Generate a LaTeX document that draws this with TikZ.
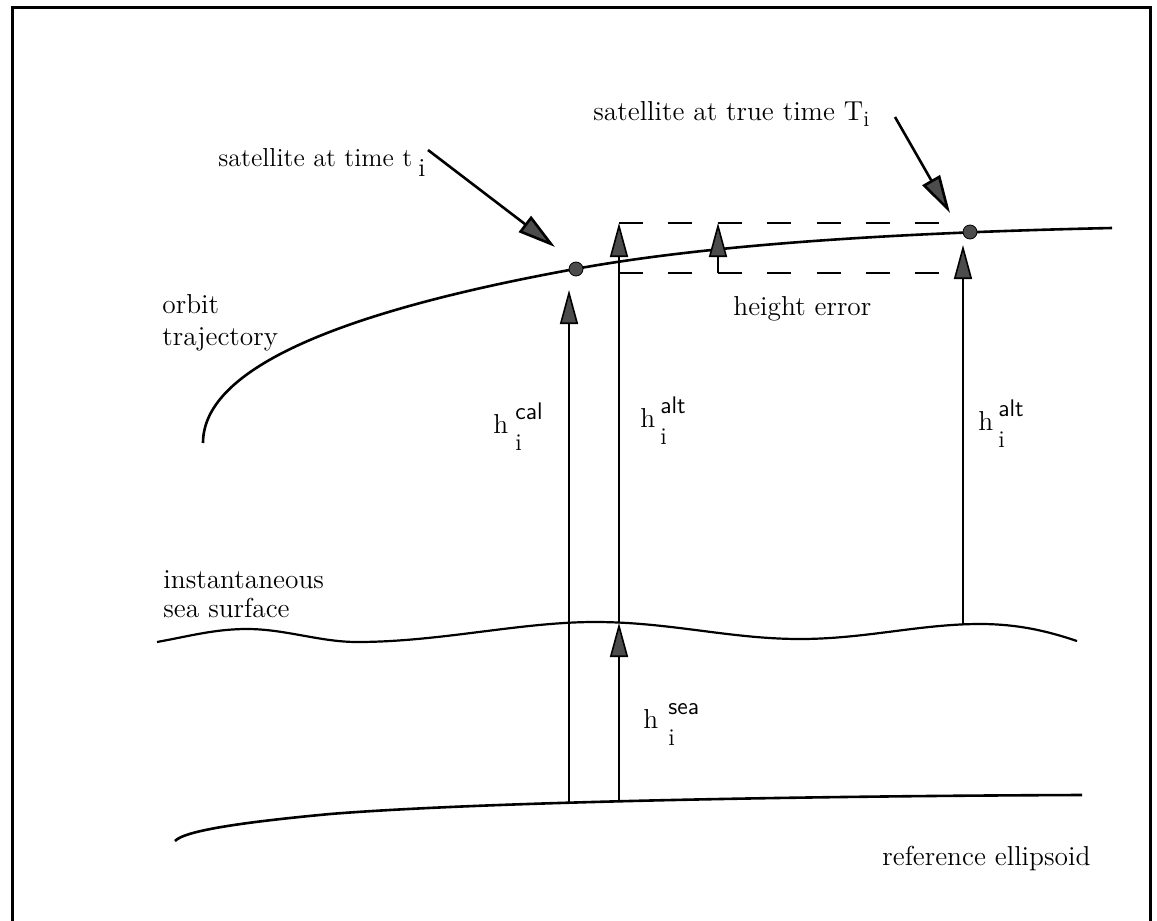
\documentclass[tikz,border=0pt]{standalone}
\usetikzlibrary{arrows.meta}
\newcommand{\hlab}[2][3pt]{h\hspace{#1}\rlap{\raisebox{7pt}{\fontsize{12}{14}\selectfont\sffamily #2}}\raisebox{-8.5pt}{\fontsize{12}{14}\selectfont i}}
\begin{document}
\begin{tikzpicture}[x=0.5pt,y=-0.5pt,
  lbl/.style={font=\fontsize{13.7}{16}\selectfont, inner sep=0pt, anchor=base west},
  frameline/.style={line width=1.5pt},
  curveline/.style={line width=1.3pt},
  vline/.style={line width=0.8pt},
  ptr/.style={line width=0.8pt,-{Triangle[length=17pt,width=9pt,fill=black!70]}},
  bigptr/.style={line width=1.3pt,-{Triangle[length=19pt,width=10pt,fill=black!70]}},
  dashline/.style={line width=1pt,dash pattern=on 12pt off 12.7pt},
  dot/.style={circle,fill=black!70,draw=black,line width=0.4pt,minimum size=7pt,inner sep=0pt}]
\useasboundingbox (0,0) rectangle (1157,921);
% frame
\draw[frameline] (12,921) -- (12,7) -- (1150,7) -- (1150,921);
% orbit trajectory
\draw[curveline] (203,443) .. controls (203,372) and (327,314) .. (575,269)
  .. controls (701,246) and (880,233) .. (1112,228);
% sea surface
\draw[curveline,line width=1.1pt] (157,642) .. controls (190,636) and (215,629) .. (247,629)
  .. controls (285,629) and (320,642) .. (357,642)
  .. controls (440,642) and (520,622) .. (595,622)
  .. controls (670,622) and (730,639) .. (800,639)
  .. controls (865,639) and (920,624) .. (980,624)
  .. controls (1020,624) and (1050,632) .. (1077,641);
% reference ellipsoid
\draw[curveline] (175,841) .. controls (185,830) and (250,821.5) .. (330,814)
  .. controls (480,802) and (800,796) .. (1082,795);
% height error box
\coordinate (boxtl) at (619,223);
\coordinate (boxtr) at (940,223);
\coordinate (boxbl) at (619,273);
\coordinate (boxbr) at (940,273);
\draw[dashline] (boxtl) -- (boxtr);
\draw[dashline] (boxbl) -- (boxbr);
% vertical quantities
\coordinate (calfoot) at (569,803);
\coordinate (caltip) at (569,290);
\coordinate (altfoot) at (619,801);
\coordinate (seatip) at (619,623);
\coordinate (alttip) at (619,223);
\coordinate (errfoot) at (718,273);
\coordinate (errtip) at (718,223);
\coordinate (rfoot) at (963,625);
\coordinate (rtip) at (963,245);
\draw[ptr] (calfoot) -- (caltip);
\draw[ptr] (altfoot) -- (seatip);
\draw[ptr] (seatip) -- (alttip);
\draw[ptr] (errfoot) -- (errtip);
\draw[ptr] (rfoot) -- (rtip);
% satellites
\node[dot] (s1) at (576,269) {};
\node[dot] (s2) at (970,232) {};
% pointer arrows
\node[lbl,font=\fontsize{13}{15}\selectfont] (lt) at (218,166) {satellite at time t\hspace{3pt}\raisebox{-5pt}{i}};
\node[lbl] (lT) at (593,120) {satellite at true time T\raisebox{-3pt}{\fontsize{11}{13}\selectfont i}};
\coordinate (a1s) at (428,150);
\coordinate (a1t) at (555,247);
\coordinate (a2s) at (895,117);
\coordinate (a2t) at (950,213);
\draw[bigptr] (a1s) -- (a1t);
\draw[bigptr] (a2s) -- (a2t);
% labels
\node[lbl] (orb) at (162,313) {orbit};
\node[lbl] (traj) at (162,345) {trajectory};
\node[lbl] (inst) at (163,588) {instantaneous};
\node[lbl] (seas) at (163,617) {sea surface};
\node[lbl] (herr) at (733,315) {height error};
\node[lbl] (refe) at (882,865) {reference ellipsoid};
\node[lbl] (hcal) at (493,433) {\hlab[3.5pt]{cal}};
\node[lbl] (halt1) at (640,427) {\hlab[2.5pt]{alt}};
\node[lbl] (halt2) at (978,430) {\hlab[2.5pt]{alt}};
\node[lbl] (hsea) at (643,728) {\hlab[5pt]{sea}};
\end{tikzpicture}
\end{document}
